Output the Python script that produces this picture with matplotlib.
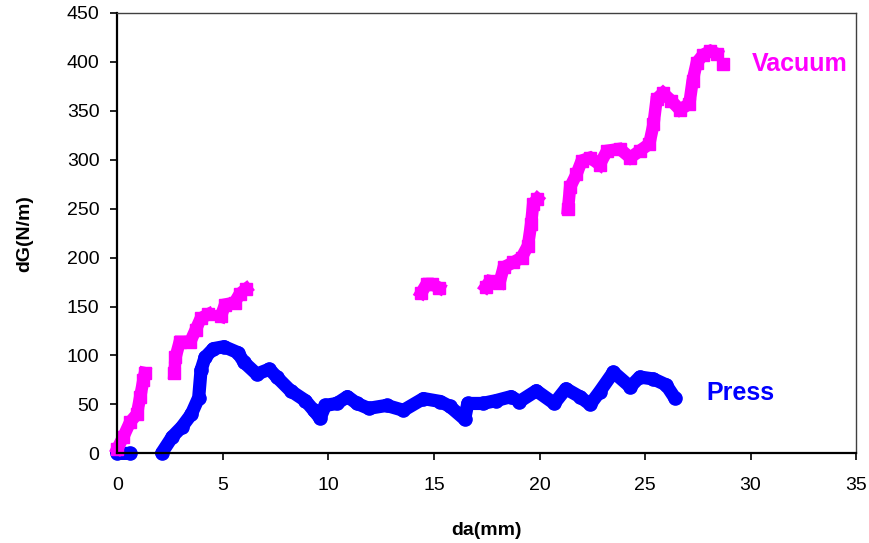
import numpy as np
import matplotlib.pyplot as plt

nan = np.nan

# Press series (blue circles)
press_x = [0, 0.6, nan,
           2.1, 2.6, 3.05, 3.5, 3.85, 3.96, 4.15, 4.55, 5.05, 5.7, 6.0, 6.6, 7.2, 7.55,
           8.2, 8.9, 9.3, 9.6, 9.85, 10.4, 10.9, 11.35, 11.9, 12.75, 13.55, 14.5, 15.3,
           15.75, 16.45, 16.6, 17.3, 17.95, 18.65, 19.05, 19.85, 20.7, 21.25, 21.9, 22.4,
           22.85, 23.5, 24.3, 24.75, 25.4, 26.0, 26.4]
press_y = [0, 0, nan,
           0.5, 17, 27, 40, 57, 85, 98, 107, 109, 103, 93, 81, 86, 78,
           64, 54, 44, 36, 49, 51, 58, 51, 46, 49, 44, 56, 53,
           48, 35, 51, 51, 54, 58, 53, 64, 51, 66, 58, 50,
           63, 83, 68, 78, 76, 70, 57]

# Vacuum series (magenta squares), broken into segments
vacuum_x = [0, 0.28, 0.6, 0.92, 1.08, 1.23, 1.3, nan,
            2.7, 2.75, 2.95, 3.45, 3.7, 3.95, 4.3, nan,
            4.9, 5.1, 5.55, 5.8, 6.1, nan,
            14.4, 14.65, 14.9, 15.25, nan,
            17.45, 17.65, 18.1, 18.3, 18.75, 19.15, 19.45, 19.6, 19.7, 19.9, nan,
            21.35, 21.45, 21.75, 22.0, 22.4, 22.85, 23.2, 23.8, 24.3, 24.75, 25.2, 25.4,
            25.55, 25.85, 26.25, 26.65, 27.1, 27.25, 27.45, 27.75, 28.1, 28.4, nan,
            28.7]
vacuum_y = [5, 17, 32, 40, 58, 75, 82, nan,
            82, 98, 114, 114, 126, 138, 142, nan,
            140, 152, 154, 163, 168, nan,
            164, 173, 173, 169, nan,
            170, 176, 174, 190, 195, 200, 212, 234, 255, 260, nan,
            250, 272, 285, 299, 302, 295, 309, 311, 302, 309, 316, 336,
            362, 368, 360, 351, 357, 380, 399, 407, 411, 408, nan,
            398]

plt.rcParams['font.family'] = ['Liberation Sans', 'DejaVu Sans']

fig = plt.figure(figsize=(8.7, 5.43), dpi=100)
ax = fig.add_axes([0.135, 0.165, 0.849, 0.8115])

ax.plot(press_x, press_y, color='#0000FF', lw=9.5, marker='o', ms=9.5,
        solid_capstyle='round', solid_joinstyle='round', clip_on=False)
ax.plot(vacuum_x, vacuum_y, color='#FF00FF', lw=9, marker='s', ms=8.5,
        solid_capstyle='projecting', solid_joinstyle='miter', clip_on=False)

ax.text(30.05, 398, 'Vacuum', color='#FF00FF', fontsize=18, fontweight='bold',
        ha='left', va='center')
ax.text(27.9, 61.5, 'Press', color='#0000FF', fontsize=18, fontweight='bold',
        ha='left', va='center')

ax.set_xlim(0, 35)
ax.set_ylim(0, 450)
ax.set_xticks(np.arange(0, 36, 5))
ax.set_yticks(np.arange(0, 451, 50))
ax.tick_params(direction='out', length=5, width=1.2, labelsize=14)
ax.tick_params(axis='y', pad=8)
ax.tick_params(axis='x', pad=12)

for side in ['left', 'bottom']:
    ax.spines[side].set_linewidth(1.6)
for side in ['top', 'right']:
    ax.spines[side].set_linewidth(1.0)
    ax.spines[side].set_color('#404040')

ax.set_xlabel('da(mm)', fontsize=14, fontweight='bold', labelpad=20)
ax.set_ylabel('dG(N/m)', fontsize=14, fontweight='bold', labelpad=24)

fig.savefig('out.png', dpi=100)
